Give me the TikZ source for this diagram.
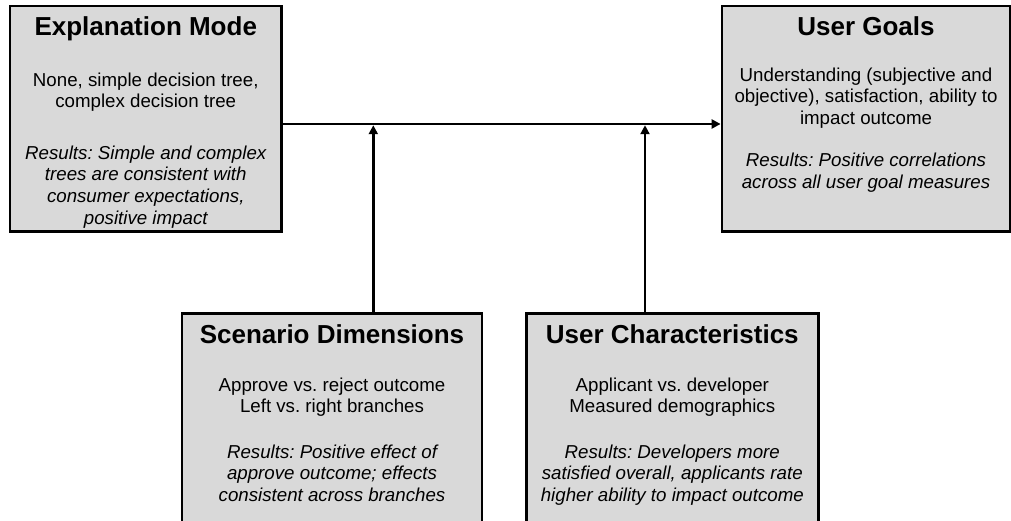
\documentclass[tikz,border=0pt]{standalone}
\usepackage{fontspec}
\setmainfont{Liberation Sans}
\usetikzlibrary{arrows.meta}
\definecolor{panelgray}{HTML}{D9D9D9}
\frenchspacing
\tikzset{
  panel/.style={draw=black, line width=2.8pt, fill=panelgray, inner sep=0pt},
  ttl/.style={font=\fontsize{26}{30}\selectfont\bfseries, anchor=base, inner sep=0pt},
  txt/.style={font=\fontsize{18.7}{21.7}\selectfont, align=center, anchor=north, inner sep=0pt},
  res/.style={txt, font=\fontsize{18.7}{21.7}\selectfont\itshape},
  link/.style={line width=2.5pt, -{Triangle[length=9pt,width=9pt]}},
}
\begin{document}
\begin{tikzpicture}[x=1pt, y=-1pt]
\clip (0,0) rectangle (1011,521);
\fill[white] (0,0) rectangle (1011,521);

% panels
\node[panel, minimum width=271.5pt, minimum height=225.5pt] (em) at (145.75,118.75) {};
\node[panel, minimum width=288pt, minimum height=225.5pt] (ug) at (866,118.75) {};
\node[panel, minimum width=300pt, minimum height=240pt] (sd) at (332,433.3) {};
\node[panel, minimum width=292pt, minimum height=240pt] (uc) at (672.3,433.3) {};

% Explanation Mode
\node[ttl] (emT) at (145.75,36) {Explanation Mode};
\node[txt] (emB) at (145.75,72.3) {None, simple decision tree,\\complex decision tree};
\node[res] (emR) at (145.75,145.3) {Results: Simple and complex\\trees are consistent with\\consumer expectations,\\positive impact};

% User Goals
\node[ttl] (ugT) at (866,36) {User Goals};
\node[txt] (ugB) at (866,67.4) {Understanding (subjective and\\objective), satisfaction, ability to\\impact outcome};
\node[res] (ugR) at (866,153.1) {Results: Positive correlations\\across all user goal measures};

% Scenario Dimensions
\node[ttl] (sdT) at (332,343) {Scenario Dimensions};
\node[txt] (sdB) at (332,377.3) {Approve vs. reject outcome\\Left vs. right branches};
\node[res] (sdR) at (332,444.3) {Results: Positive effect of\\approve outcome; effects\\consistent across branches};

% User Characteristics
\node[ttl] (ucT) at (672.3,343) {User Characteristics};
\node[txt] (ucB) at (672.3,377.3) {Applicant vs. developer\\Measured demographics};
\node[res] (ucR) at (672.3,444.3) {Results: Developers more\\satisfied overall, applicants rate\\higher ability to impact outcome};

% connectors
\coordinate (bus) at (0,124);
\coordinate (jsd) at (373.3,0);
\coordinate (juc) at (645,0);
\draw[link] (em.east |- bus) -- (ug.west |- bus);
\draw[link] (sd.north -| jsd) -- ([yshift=-1.25pt]bus -| jsd);
\draw[link] (uc.north -| juc) -- ([yshift=-1.25pt]bus -| juc);
\end{tikzpicture}
\end{document}
